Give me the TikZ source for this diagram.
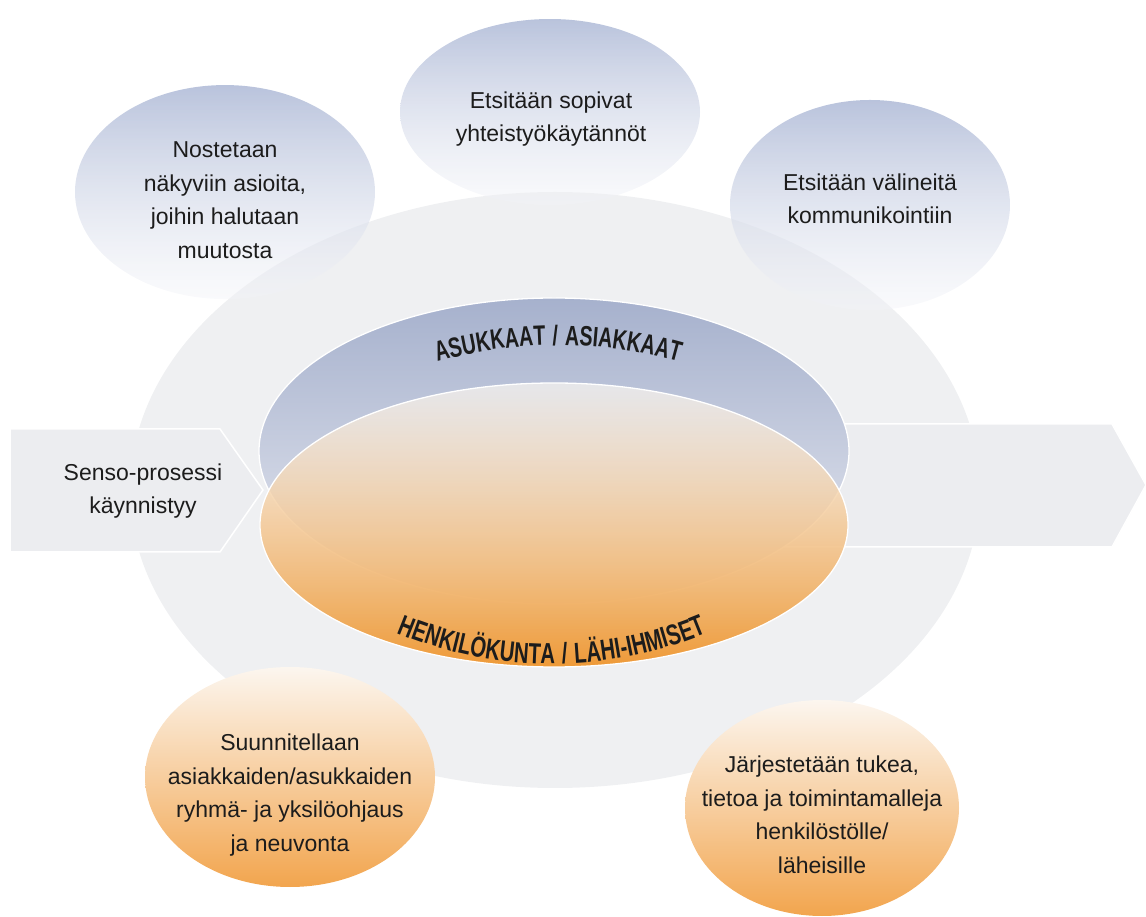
\documentclass[tikz,border=0pt]{standalone}
\usepackage{fontspec}
\setmainfont{Liberation Sans}
\newfontfamily\boldc{Liberation Sans}[FakeStretch=0.70, LetterSpace=5]
\usetikzlibrary{shapes.geometric,fadings,decorations.text}
\definecolor{greyfill}{HTML}{EFF0F2}
\definecolor{arrowfill}{HTML}{ECEDF0}
\definecolor{ubluetop}{HTML}{A6B1CD}
\definecolor{ubluebot}{HTML}{E8EAF1}
\definecolor{sbluetop}{HTML}{B9C3DC}
\definecolor{sbluebot}{HTML}{F3F4F8}
\definecolor{orangebot}{HTML}{EE9A38}
\definecolor{orangemid}{HTML}{F7D6AE}
\definecolor{orangetop}{HTML}{FAF7F3}
\definecolor{sorangebot}{HTML}{F2A54E}
\definecolor{sorangetop}{HTML}{FCF6EF}
\definecolor{txt}{HTML}{1C1C1C}
\tikzfading[name=clearbottom, top color=transparent!0, bottom color=transparent!55]
\tikzfading[name=cleartop, top color=transparent!30, bottom color=transparent!0]
\tikzset{
  blob/.style={ellipse, inner sep=0pt, outer sep=0pt},
  outline/.style={draw=white, line width=1.3pt},
  lbl/.style={align=center, inner sep=0pt, text=txt, font=\fontsize{23}{33.5}\selectfont},
  arrowshape/.style={fill=arrowfill, draw=white, line width=1.5pt, line join=miter},
  topblob/.style={blob, top color=sbluetop, bottom color=sbluebot, path fading=clearbottom},
  botblob/.style={blob, top color=sorangetop, bottom color=sorangebot},
}
\begin{document}
\begin{tikzpicture}[x=1pt, y=1pt]
\useasboundingbox (0,0) rectangle (1146,916);
% big grey ellipse
\node[blob, fill=greyfill, minimum width=850, minimum height=596] (grey) at (555,426) {};
% small top ellipses
\node[topblob, minimum width=300, minimum height=214] (tl) at (225,724) {};
\node[topblob, minimum width=300, minimum height=186] (tc) at (550,804) {};
\node[topblob, minimum width=280, minimum height=210] (tr) at (870,711) {};
% arrows
\draw[arrowshape] (560,492) -- (1112,492) -- (1146,431) -- (1112,369) -- (560,369) -- cycle;
\draw[arrowshape] (10,487) -- (220,487) -- (263,426) -- (220,364) -- (10,364) -- cycle;
% central ellipses
\node[blob, outline, top color=ubluetop, bottom color=ubluebot, minimum width=590, minimum height=306] (up) at (554,465) {};
\node[blob, top color=orangetop, middle color=orangemid, bottom color=orangebot, path fading=cleartop, minimum width=588, minimum height=284] (low) at (554,391) {};
\draw[outline] (low.center) ellipse [x radius=294, y radius=142];
% bottom ellipses
\node[botblob, minimum width=290, minimum height=220] (bl) at (290,139) {};
\node[botblob, minimum width=274, minimum height=216] (br) at (822,108) {};
% curved labels
\path[decorate, decoration={text along path, text align=center,
  text={|\boldc\bfseries\fontsize{28}{30}\selectfont\color{txt}|ASUKKAAT / ASIAKKAAT}}]
  (558,128) ++(112:443) arc[start angle=112, end angle=68, radius=443];
\path[decorate, decoration={text along path, text align=center,
  text={|\boldc\bfseries\fontsize{29}{30}\selectfont\color{txt}|HENKILÖKUNTA / LÄHI-IHMISET}}]
  (552,656) ++(240:404) arc[start angle=240, end angle=300, radius=404];
% texts
\node[lbl] (tltext) at (225,716) {Nostetaan\\näkyviin asioita,\\joihin halutaan\\muutosta};
\node[lbl] (tctext) at (551,797) {Etsitään sopivat\\yhteistyökäytännöt};
\node[lbl] (trtext) at (870,717) {Etsitään välineitä\\kommunikointiin};
\node[lbl] (sensotext) at (143,425) {Senso-prosessi\\käynnistyy};
\node[lbl] (bltext) at (290,121) {Suunnitellaan\\asiakkaiden/asukkaiden\\ryhmä- ja yksilöohjaus\\ja neuvonta};
\node[lbl] (brtext) at (822,101) {Järjestetään tukea,\\tietoa ja toimintamalleja\\henkilöstölle/\\läheisille};
\end{tikzpicture}
\end{document}
